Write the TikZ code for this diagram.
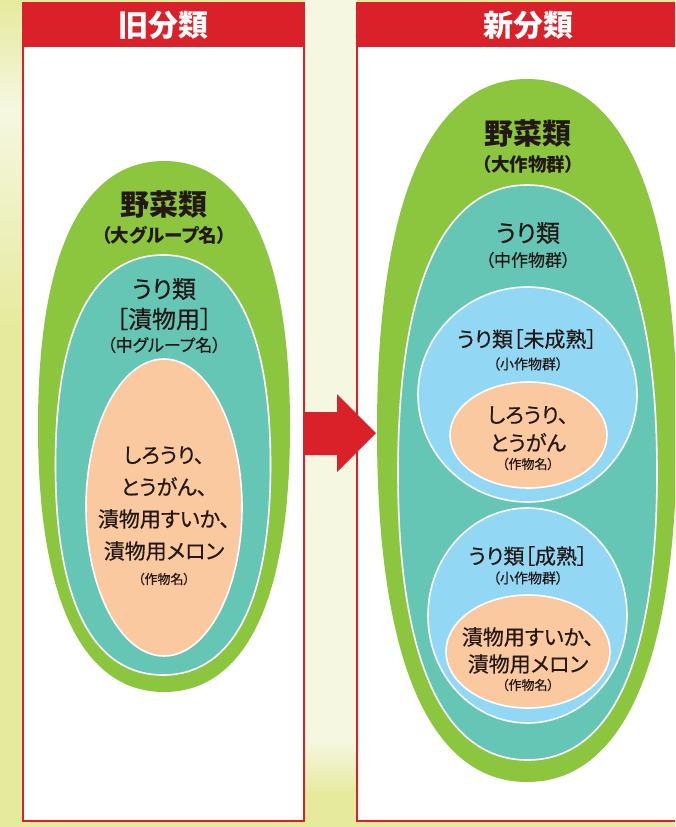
\documentclass[tikz,border=0pt]{standalone}
\usepackage{fontspec}
\setmainfont{Noto Sans CJK JP}[RawFeature=+palt]
\newfontfamily\medjp{Noto Sans CJK JP}[RawFeature=+palt, FakeBold=0.5]
\definecolor{bgyellow}{HTML}{E6EA9C}
\definecolor{bgcream}{HTML}{F5F7E1}
\definecolor{redbar}{HTML}{DA2028}
\definecolor{vegreen}{HTML}{8CC63F}
\definecolor{uriteal}{HTML}{66C6B6}
\definecolor{skyblue}{HTML}{92D8F5}
\definecolor{peach}{HTML}{FBC9A0}
\definecolor{ink}{HTML}{231815}
% egg with flat sides: centre x, centre y, half width, half height
\newcommand{\eggpath}[4]{(#1,#2-#4) .. controls (#1+0.6*#3,#2-#4) and (#1+#3,#2-0.7*#4) .. (#1+#3,#2)
  .. controls (#1+#3,#2+0.7*#4) and (#1+0.6*#3,#2+#4) .. (#1,#2+#4)
  .. controls (#1-0.6*#3,#2+#4) and (#1-#3,#2+0.7*#4) .. (#1-#3,#2)
  .. controls (#1-#3,#2-0.7*#4) and (#1-0.6*#3,#2-#4) .. cycle}

\begin{document}
\begin{tikzpicture}[x = 1pt, y = -1pt,
  every node/.style = {text = ink, inner sep = 0pt, align = center},
  panel/.style = {draw = redbar, line width = 2pt, fill = white},
  rim/.style = {draw = white, line width = 1.6pt},
  head/.style = {font = \fontsize{30}{30}\bfseries\selectfont, text = white},
  big/.style = {font = \fontsize{29}{30}\bfseries\selectfont},
  bigsub/.style = {font = \fontsize{18.5}{20}\bfseries\selectfont},
  mid/.style = {font = \medjp\fontsize{24}{30}\selectfont},
  midsub/.style = {font = \medjp\fontsize{17}{18}\selectfont},
  small/.style = {font = \medjp\fontsize{21}{28}\selectfont},
  smallsub/.style = {font = \medjp\fontsize{14}{15}\selectfont},
  tiny/.style = {font = \medjp\fontsize{13}{14}\selectfont}]
\useasboundingbox (0, 0) rectangle (675, 827);
\clip (0, 0) rectangle (675, 827);

% background
\fill[bgyellow] (0, 0) rectangle (675, 827);
\shade[top color = bgyellow, bottom color = bgcream] (0, 0) rectangle (23, 110);
\shade[top color = bgcream, bottom color = bgyellow] (0, 110) rectangle (23, 330);
\fill[bgcream] (304, 0) rectangle (357, 740);
\shade[top color = bgcream, bottom color = bgyellow] (304, 740) rectangle (357, 795);

% panels
\draw[panel] (23, 3) rectangle (304, 821);
\fill[redbar] (23, 3) rectangle (304, 47);
\draw[panel] (357, 3) rectangle (699, 821);
\fill[redbar] (357, 3) rectangle (699, 47);
\node[head] (oldhead) at (163.5, 25) {旧分類};
\node[head] (newhead) at (528, 25) {新分類};

% arrow
\fill[redbar] (304, 412) -- (337, 412) -- (337, 394) -- (376, 433)
  -- (337, 472) -- (337, 455) -- (304, 455) -- cycle;

% old
\fill[vegreen] \eggpath{164}{426.5}{126}{265.5};
\filldraw[uriteal, rim] \eggpath{163}{465}{107.5}{210};
\filldraw[peach, rim] (164, 507.5) ellipse [x radius = 78, y radius = 148.5];
\node[big] (oldveg) at (164, 204) {野菜類};
\node[bigsub] (oldvegsub) at (164, 235) {（大グループ名）};
\node[mid] (olduri) at (164, 289) {うり類};
\node[mid] (oldtsuke) at (164, 319) {［漬物用］};
\node[midsub] (oldurisub) at (164, 345) {（中グループ名）};
\node[font = \medjp\fontsize{21}{32}\selectfont] (oldcrop) at (164, 503.5)
  {しろうり、\\とうがん、\\漬物用すいか、\\漬物用メロン};
\node[tiny] (oldcropsub) at (164, 579) {（作物名）};

% new
\fill[vegreen] \eggpath{527}{430.5}{150}{351.5};
\filldraw[uriteal, rim] \eggpath{527.5}{472.5}{129.5}{287.5};
\filldraw[skyblue, rim] (527.5, 394.5) ellipse [x radius = 109.5, y radius = 107.5];
\filldraw[peach, rim] (528.5, 435) ellipse [x radius = 78.5, y radius = 53];
\filldraw[skyblue, rim] (527.5, 615.5) ellipse [x radius = 99.5, y radius = 107.5];
\filldraw[peach, rim] (528, 651.5) ellipse [x radius = 82, y radius = 56.5];
\node[big] (newveg) at (528, 133) {野菜類};
\node[bigsub] (newvegsub) at (528, 164) {（大作物群）};
\node[mid] (newuri) at (528, 233) {うり類};
\node[midsub] (newurisub) at (528, 260) {（中作物群）};
\node[small] (unripe) at (527, 339) {うり類［未成熟］};
\node[smallsub] (unripesub) at (528, 364) {（小作物群）};
\node[small] (unripecrop) at (528, 429) {しろうり、\\とうがん};
\node[tiny] (unripecropsub) at (528, 464) {（作物名）};
\node[small] (ripe) at (528, 556) {うり類［成熟］};
\node[smallsub] (ripesub) at (528, 578) {（小作物群）};
\node[small, font = \medjp\fontsize{21}{27}\selectfont] (ripecrop) at (528, 650.5) {漬物用すいか、\\漬物用メロン};
\node[tiny] (ripecropsub) at (528, 685) {（作物名）};
\end{tikzpicture}
\end{document}
